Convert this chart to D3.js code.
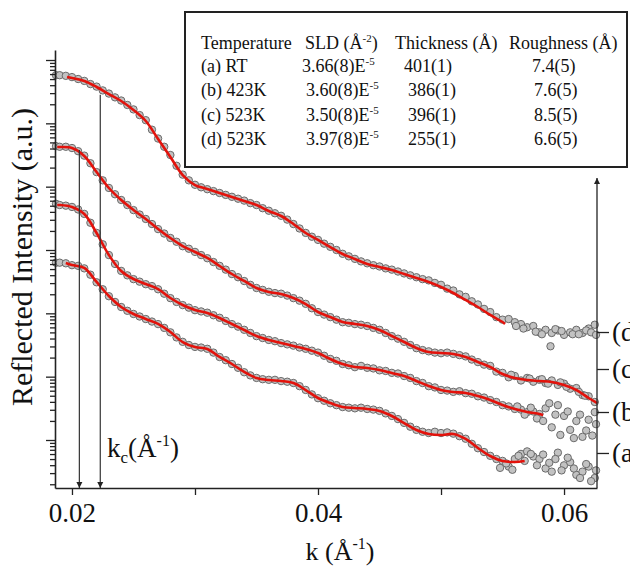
<!DOCTYPE html>
<meta charset="utf-8">
<style>
body{margin:0;background:#fff}
text{font-family:"Liberation Serif","Times New Roman",serif;fill:#111}
</style>
<body>
<svg></svg>
<script src="https://cdnjs.cloudflare.com/ajax/libs/d3/7.8.5/d3.min.js"></script>
<script>
// k in 1/Å, reflectivity stored as log10 (arbitrary units, curves offset)
var kMeas = [0.0187,
  0.0190,0.0195,0.0200,0.0205,0.0210,0.0215,0.0220,0.0225,0.0230,0.0235,
  0.0240,0.0245,0.0250,0.0255,0.0260,0.0265,0.0270,0.0275,0.0280,0.0285,
  0.0290,0.0295,0.0300,0.0305,0.0310,0.0315,0.0320,0.0325,0.0330,0.0335,
  0.0340,0.0345,0.0350,0.0355,0.0360,0.0365,0.0370,0.0375,0.0380,0.0385,
  0.0390,0.0395,0.0400,0.0405,0.0410,0.0415,0.0420,0.0425,0.0430,0.0435,
  0.0440,0.0445,0.0450,0.0455,0.0460,0.0465,0.0470,0.0475,0.0480,0.0485,
  0.0490,0.0495,0.0500,0.0505,0.0510,0.0515,0.0520,0.0525,0.0530,0.0535,
  0.0540,0.0545,0.0550,0.0555,0.0560,0.0565,0.0570,0.0575,0.0580,0.0585,
  0.0590,0.0595,0.0600,0.0605,0.0610,0.0615,0.0620,0.0625];

var measD = [-1.24,
  -1.24,-1.25,-1.27,-1.30,-1.33,-1.38,-1.42,-1.48,-1.53,-1.59,
  -1.64,-1.71,-1.78,-1.87,-1.95,-2.10,-2.24,-2.37,-2.50,-2.67,
  -2.81,-2.90,-2.97,-3.01,-3.04,-3.07,-3.10,-3.13,-3.16,-3.19,
  -3.22,-3.26,-3.29,-3.34,-3.38,-3.42,-3.46,-3.52,-3.59,-3.66,
  -3.73,-3.79,-3.84,-3.90,-3.95,-4.00,-4.06,-4.10,-4.14,-4.18,
  -4.21,-4.24,-4.26,-4.29,-4.31,-4.34,-4.37,-4.40,-4.43,-4.46,
  -4.48,-4.52,-4.55,-4.61,-4.64,-4.70,-4.74,-4.81,-4.86,-4.93,
  -4.98,-5.06,-5.10,-5.09,-5.14,-5.17,-5.22,-5.20,-5.30,-5.26,
  -5.31,-5.27,-5.34,-5.30,-5.26,-5.31,-5.24,-5.18];
var measC = [-2.36,
  -2.37,-2.37,-2.39,-2.44,-2.51,-2.63,-2.77,-2.90,-3.02,-3.12,
  -3.21,-3.29,-3.37,-3.44,-3.51,-3.59,-3.67,-3.74,-3.81,-3.87,
  -3.94,-3.98,-4.03,-4.08,-4.13,-4.19,-4.25,-4.31,-4.38,-4.43,
  -4.49,-4.55,-4.60,-4.63,-4.66,-4.68,-4.69,-4.72,-4.76,-4.80,
  -4.85,-4.92,-4.98,-5.02,-5.06,-5.10,-5.14,-5.15,-5.17,-5.18,
  -5.20,-5.23,-5.26,-5.31,-5.36,-5.40,-5.45,-5.50,-5.55,-5.58,
  -5.60,-5.62,-5.63,-5.62,-5.64,-5.66,-5.68,-5.73,-5.77,-5.81,
  -5.83,-5.92,-5.94,-6.01,-5.99,-6.06,-6.02,-6.08,-6.05,-6.10,
  -6.06,-6.13,-6.11,-6.19,-6.18,-6.29,-6.31,-6.40];
var measB = [-3.27,
  -3.29,-3.30,-3.32,-3.36,-3.43,-3.57,-3.73,-3.91,-4.08,-4.22,
  -4.33,-4.40,-4.46,-4.50,-4.54,-4.57,-4.62,-4.69,-4.76,-4.82,
  -4.87,-4.91,-4.95,-4.97,-4.99,-5.03,-5.07,-5.12,-5.17,-5.21,
  -5.26,-5.31,-5.36,-5.39,-5.42,-5.44,-5.47,-5.49,-5.51,-5.54,
  -5.56,-5.59,-5.62,-5.67,-5.72,-5.75,-5.80,-5.82,-5.85,-5.83,
  -5.86,-5.87,-5.90,-5.91,-5.94,-5.95,-5.99,-6.02,-6.07,-6.10,
  -6.15,-6.17,-6.21,-6.22,-6.24,-6.23,-6.26,-6.27,-6.31,-6.33,
  -6.37,-6.40,-6.45,-6.47,-6.51,-6.52,-6.56,-6.55,-6.59,-6.50,
  -6.80,-6.45,-6.62,-6.84,-6.70,-6.95,-6.68,-6.56];
var measA = [-4.20,
  -4.20,-4.21,-4.24,-4.25,-4.29,-4.39,-4.51,-4.62,-4.73,-4.82,
  -4.90,-4.96,-5.01,-5.05,-5.09,-5.13,-5.17,-5.23,-5.30,-5.38,
  -5.45,-5.50,-5.53,-5.54,-5.56,-5.62,-5.69,-5.74,-5.80,-5.86,
  -5.93,-5.98,-6.02,-6.04,-6.05,-6.05,-6.07,-6.08,-6.10,-6.15,
  -6.21,-6.28,-6.34,-6.38,-6.42,-6.45,-6.48,-6.49,-6.50,-6.49,
  -6.51,-6.52,-6.54,-6.58,-6.62,-6.67,-6.73,-6.79,-6.84,-6.87,
  -6.89,-6.87,-6.89,-6.88,-6.90,-6.94,-6.98,-7.06,-7.13,-7.19,
  -7.25,-7.30,-7.33,-7.42,-7.30,-7.22,-7.18,-7.26,-7.30,-7.45,
  -7.50,-7.20,-7.40,-7.35,-7.55,-7.50,-7.42,-7.60];

// extra scattered points at high k
var tailD = [[0.0561,-5.20],[0.0567,-5.24],[0.0577,-5.29],[0.0582,-5.33],[0.0589,-5.52],
  [0.0593,-5.25],[0.0598,-5.28],[0.0607,-5.33],[0.0612,-5.33],[0.0618,-5.27],[0.0622,-5.30],[0.0626,-5.34]];
var tailC = [[0.0557,-5.97],[0.0572,-6.03],[0.0582,-6.04],[0.0587,-6.11],[0.0597,-6.09],
  [0.0602,-6.16],[0.0612,-6.24],[0.0617,-6.30]];
var tailB = [[0.0562,-6.47],[0.0568,-6.60],[0.0573,-6.49],[0.0578,-6.66],[0.0583,-6.70],
  [0.0588,-6.42],[0.0593,-6.60],[0.0597,-6.92],[0.0603,-6.55],[0.0608,-6.97],[0.0613,-6.60],
  [0.0618,-6.85],[0.0623,-6.93],[0.0626,-6.75]];
var tailA = [[0.0548,-7.44],[0.0553,-7.37],[0.0558,-7.47],[0.0563,-7.25],[0.0568,-7.33],
  [0.0573,-7.22],[0.0578,-7.40],[0.0583,-7.23],[0.0588,-7.36],[0.0593,-7.30],[0.0598,-7.48],
  [0.0603,-7.28],[0.0608,-7.45],[0.0613,-7.60],[0.0618,-7.38],[0.0622,-7.65],[0.0626,-7.48]];

// fitted curves
var fitD = [[0.0196,-1.268],[0.020,-1.284],[0.021,-1.332],[0.022,-1.426],[0.023,-1.537],[0.024,-1.647],
  [0.025,-1.789],[0.026,-1.963],[0.027,-2.247],[0.028,-2.532],[0.029,-2.816],[0.030,-2.974],[0.031,-3.037],
  [0.032,-3.100],[0.033,-3.163],[0.034,-3.226],[0.035,-3.289],[0.036,-3.384],[0.037,-3.463],[0.038,-3.589],
  [0.039,-3.732],[0.040,-3.842],[0.041,-3.953],[0.042,-4.063],[0.043,-4.142],[0.044,-4.221],[0.045,-4.268],
  [0.046,-4.316],[0.047,-4.379],[0.048,-4.442],[0.049,-4.505],[0.050,-4.584],[0.051,-4.679],[0.052,-4.789],
  [0.053,-4.900],[0.054,-5.026],[0.055,-5.137],[0.0552,-5.168]];
var fitC = [[0.0188,-2.374],[0.019,-2.374],[0.020,-2.389],[0.021,-2.516],[0.022,-2.768],[0.023,-3.021],
  [0.024,-3.211],[0.025,-3.368],[0.026,-3.511],[0.027,-3.668],[0.028,-3.811],[0.029,-3.937],[0.030,-4.032],
  [0.031,-4.126],[0.032,-4.253],[0.033,-4.379],[0.034,-4.489],[0.035,-4.600],[0.036,-4.663],[0.037,-4.695],
  [0.038,-4.758],[0.039,-4.853],[0.040,-4.979],[0.041,-5.058],[0.042,-5.137],[0.043,-5.168],[0.044,-5.200],
  [0.045,-5.263],[0.046,-5.358],[0.047,-5.453],[0.048,-5.547],[0.049,-5.611],[0.050,-5.626],[0.051,-5.642],
  [0.052,-5.689],[0.053,-5.768],[0.054,-5.847],[0.055,-5.958],[0.056,-6.021],[0.057,-6.053],[0.058,-6.068],
  [0.059,-6.084],[0.060,-6.132],[0.061,-6.211],[0.062,-6.337],[0.0627,-6.416]];
var fitB = [[0.0188,-3.289],[0.019,-3.289],[0.020,-3.321],[0.021,-3.432],[0.022,-3.732],[0.023,-4.079],
  [0.024,-4.332],[0.025,-4.458],[0.026,-4.537],[0.027,-4.616],[0.028,-4.758],[0.029,-4.868],[0.030,-4.947],
  [0.031,-4.995],[0.032,-5.074],[0.033,-5.168],[0.034,-5.263],[0.035,-5.358],[0.036,-5.421],[0.037,-5.468],
  [0.038,-5.516],[0.039,-5.563],[0.040,-5.626],[0.041,-5.721],[0.042,-5.800],[0.043,-5.847],[0.044,-5.863],
  [0.045,-5.895],[0.046,-5.942],[0.047,-5.989],[0.048,-6.068],[0.049,-6.147],[0.050,-6.211],[0.051,-6.242],
  [0.052,-6.258],[0.053,-6.305],[0.054,-6.368],[0.055,-6.447],[0.056,-6.511],[0.057,-6.558],[0.058,-6.589],
  [0.0583,-6.605]];
var fitA = [[0.0195,-4.205],[0.020,-4.237],[0.021,-4.284],[0.022,-4.505],[0.023,-4.726],[0.024,-4.900],
  [0.025,-5.011],[0.026,-5.089],[0.027,-5.168],[0.028,-5.295],[0.029,-5.453],[0.030,-5.532],[0.031,-5.563],
  [0.032,-5.689],[0.033,-5.800],[0.034,-5.926],[0.035,-6.021],[0.036,-6.053],[0.037,-6.068],[0.038,-6.100],
  [0.039,-6.211],[0.040,-6.337],[0.041,-6.416],[0.042,-6.479],[0.043,-6.495],[0.044,-6.511],[0.045,-6.542],
  [0.046,-6.621],[0.047,-6.732],[0.048,-6.842],[0.049,-6.905],[0.050,-6.921],[0.051,-6.905],[0.052,-6.984],
  [0.053,-7.126],[0.054,-7.253],[0.055,-7.332],[0.056,-7.347],[0.0568,-7.332]];

var curveLabels = ["(a)","(b)","(c)","(d)"];
var labelLevels = [-7.205,-6.558,-5.879,-5.295];
var kcValues = [0.0206,0.0223];
var kcTops = [-2.42,-1.55];
var xTicks = [0.02,0.03,0.04,0.05,0.06];
var xLabeled = [0.02,0.04,0.06];

var temps = ["(a) RT","(b) 423K","(c) 523K","(d) 523K"];
var sld = ["3.66(8)","3.60(8)","3.50(8)","3.97(8)"];
var thick = ["401(1)","386(1)","396(1)","255(1)"];
var rough = ["7.4(5)","7.6(5)","8.5(5)","6.6(5)"];

var margin = {top: 50, right: 33, bottom: 83, left: 55},
    width = 630 - margin.left - margin.right,
    height = 571 - margin.top - margin.bottom;

var p10 = v => Math.pow(10, v);

var x = d3.scaleLinear().domain([0.01862, 0.06268]).range([0, width]);
var y = d3.scaleLog().domain([p10(-7.758), p10(-0.842)]).range([height, 0]);

var svg = d3.select("svg").attr("width", 630).attr("height", 571);

var defs = svg.append("defs");
defs.append("marker").attr("id","arr")
  .attr("viewBox","0 0 10 10").attr("refX",10).attr("refY",5)
  .attr("markerUnits","userSpaceOnUse").attr("markerWidth",6).attr("markerHeight",9)
  .attr("orient","auto")
  .append("path").attr("d","M0,0 L10,5 L0,10 z").attr("fill","#222");

var g = svg.append("g").attr("transform","translate(" + margin.left + "," + margin.top + ")");

// measured points
var series = [
  {meas: measA, tail: tailA, fit: fitA},
  {meas: measB, tail: tailB, fit: fitB},
  {meas: measC, tail: tailC, fit: fitC},
  {meas: measD, tail: tailD, fit: fitD}
];
series.forEach(function(s){
  var pts = kMeas.map((k,i) => [k, s.meas[i]]).filter(d => d[1] !== undefined).concat(s.tail);
  g.append("g").selectAll("circle").data(pts).enter().append("circle")
    .attr("cx", d => x(d[0]))
    .attr("cy", d => y(p10(d[1])))
    .attr("r", 3.7)
    .attr("fill", "#c2c2c2")
    .attr("stroke", "#6a6a6a")
    .attr("stroke-width", 1);
});

var line = d3.line().x(d => x(d[0])).y(d => y(p10(d[1]))).curve(d3.curveCatmullRom);
series.forEach(function(s){
  g.append("path").datum(s.fit).attr("d", line)
    .attr("fill","none").attr("stroke","#e3120b").attr("stroke-width",2.6);
});

// k_c arrows
g.selectAll(".kc").data(kcValues).enter().append("line").attr("class","kc")
  .attr("x1", d => x(d)).attr("x2", d => x(d))
  .attr("y1", (d,i) => y(p10(kcTops[i]))).attr("y2", height)
  .attr("stroke","#333").attr("stroke-width",1.2).attr("marker-end","url(#arr)");

g.append("text").attr("x", 52).attr("y", 407).style("font-size","27px")
  .call(t => {
    t.append("tspan").text("k");
    t.append("tspan").attr("dy",6).style("font-size","17px").text("c");
    t.append("tspan").attr("dy",-6).text("(Å");
    t.append("tspan").attr("dy",-11).style("font-size","16px").text("-1");
    t.append("tspan").attr("dy",11).text(")");
  });

// left log axis
var yAxis = d3.axisLeft(y).tickValues(y.ticks()).tickFormat("").tickSizeOuter(0);
var ya = g.append("g").call(yAxis);
ya.selectAll(".tick line").attr("x2", d => {
  var l = Math.log10(d);
  return Math.abs(l - Math.round(l)) < 1e-6 ? -9 : -5;
}).attr("stroke","#222").attr("stroke-width",1.3);
ya.select(".domain").attr("stroke","#222").attr("stroke-width",1.6);

// bottom axis
var xa = g.append("g").attr("transform","translate(0," + height + ")")
  .call(d3.axisBottom(x).tickValues(xTicks).tickSizeOuter(0).tickPadding(9)
    .tickFormat(d => xLabeled.some(v => Math.abs(v - d) < 1e-9) ? d3.format(".2f")(d) : ""));
xa.selectAll(".tick line").attr("y2", 7).attr("stroke","#222").attr("stroke-width",1.3);
xa.select(".domain").attr("stroke","#222").attr("stroke-width",1.6);
xa.selectAll(".tick text").style("font-size","27px").style("font-family","Liberation Serif, serif").attr("fill","#111");

// right axis with curve labels
g.append("line").attr("x1", width).attr("x2", width).attr("y1", height).attr("y2", 128)
  .attr("stroke","#222").attr("stroke-width",1.3).attr("marker-end","url(#arr)");
var ra = g.append("g").attr("transform","translate(" + width + ",0)")
  .call(d3.axisRight(y).tickValues(labelLevels.map(p10)).tickSize(12).tickPadding(3)
    .tickFormat((d,i) => curveLabels[i]));
ra.select(".domain").remove();
ra.selectAll(".tick line").attr("stroke","#222").attr("stroke-width",1.3);
ra.selectAll(".tick text").style("font-size","27px").style("font-family","Liberation Serif, serif").attr("fill","#111");

// axis titles
svg.append("text").attr("transform","translate(32,257) rotate(-90)")
  .attr("text-anchor","middle").style("font-size","30px").text("Reflected Intensity (a.u.)");
svg.append("text").attr("x", 340).attr("y", 560).attr("text-anchor","middle").style("font-size","26px")
  .call(t => {
    t.append("tspan").text("k (Å");
    t.append("tspan").attr("dy",-11).style("font-size","16px").text("-1");
    t.append("tspan").attr("dy",11).text(")");
  });

// parameter table
var tb = svg.append("g");
tb.append("rect").attr("x",185).attr("y",12).attr("width",442).attr("height",155)
  .attr("fill","#fff").attr("stroke","#222").attr("stroke-width",2);
var head = tb.append("g").style("font-size","18px");
head.append("text").attr("x",201).attr("y",49).text("Temperature");
head.append("text").attr("x",305).attr("y",49).call(t => {
  t.append("tspan").text("SLD (Å");
  t.append("tspan").attr("dy",-7).style("font-size","11px").text("-2");
  t.append("tspan").attr("dy",7).text(")");
});
head.append("text").attr("x",395).attr("y",49).text("Thickness (Å)");
head.append("text").attr("x",509).attr("y",49).text("Roughness (Å)");

var rows = tb.selectAll(".row").data(temps).enter().append("g").attr("class","row")
  .style("font-size","18px")
  .attr("transform",(d,i) => "translate(0," + (72 + i * 24.3) + ")");
rows.append("text").attr("x",201).text(d => d);
rows.append("text").attr("x",(d,i) => i === 0 ? 302 : 306).each(function(d,i){
  var t = d3.select(this);
  t.append("tspan").text(sld[i] + "E");
  t.append("tspan").attr("dy",-7).style("font-size","11px").text("-5");
});
rows.append("text").attr("x",(d,i) => i === 0 ? 404 : 408).text((d,i) => thick[i]);
rows.append("text").attr("x",(d,i) => i === 0 ? 532 : 534).text((d,i) => rough[i]);
</script>
